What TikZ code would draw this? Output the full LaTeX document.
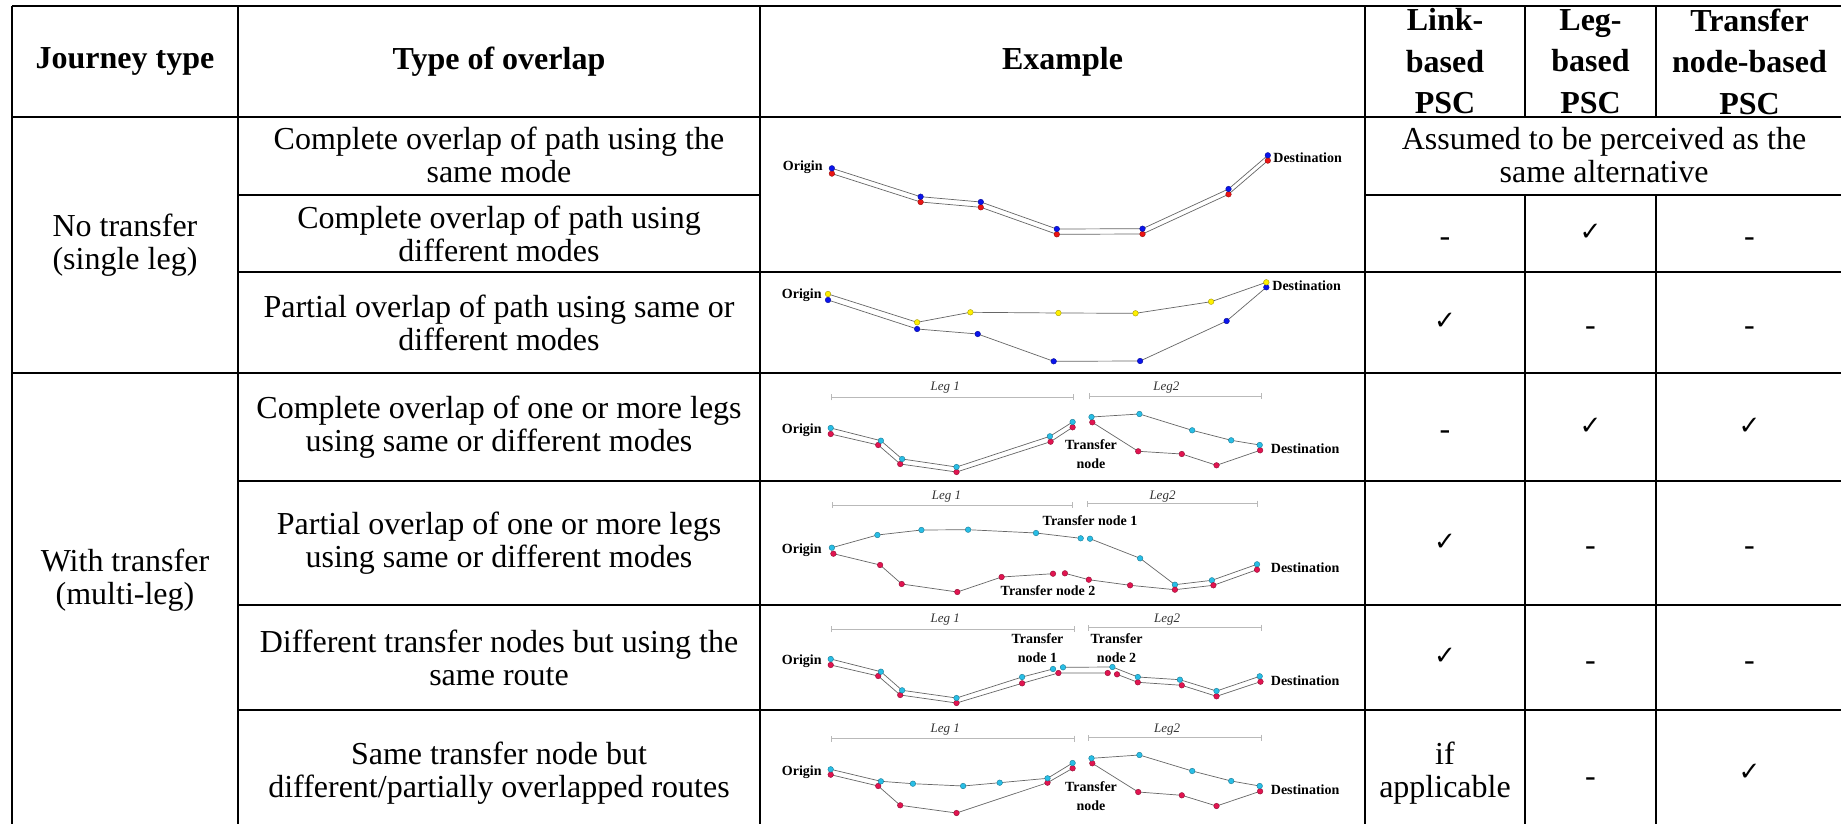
\documentclass[tikz,border=0pt]{standalone}
\usepackage{fontspec}
\setmainfont{Liberation Serif}
\newfontfamily\dejavu{DejaVu Sans}
\usetikzlibrary{arrows.meta}
\definecolor{bluec}{RGB}{10,20,235}
\definecolor{redc}{RGB}{235,20,20}
\definecolor{yellowc}{RGB}{255,240,0}
\definecolor{cyanc}{RGB}{40,190,230}
\definecolor{pinkc}{RGB}{225,20,80}
\newcommand\ckm{{\dejavu\bfseries\fontsize{13}{13}\selectfont ✓}}
\tikzset{
  grid/.style={line width=1pt},
  body/.style={font=\fontsize{16}{16.5}\selectfont, align=center, inner sep=0pt},
  head/.style={font=\bfseries\fontsize{16}{20.75}\selectfont, align=center, inner sep=0pt},
  valdash/.style={font=\fontsize{16}{16}\selectfont, anchor=base, inner sep=0pt},
  valck/.style={anchor=base, inner sep=0pt},
  lbl/.style={font=\bfseries\fontsize{7}{9.5}\selectfont, inner sep=0pt, align=center},
  legbar/.style={draw=gray!55, line width=0.5pt, {Bar[width=3pt]}-{Bar[width=3pt]}},
  leglbl/.style={font=\itshape\fontsize{6.5}{7}\selectfont, text=gray!40!black, inner sep=0pt},
  route/.style={draw=black!60, line width=0.35pt},
  dotsof/.style={mark=*, mark size=1.4pt, mark options={fill=#1, draw=#1!65!black, line width=0.2pt, solid}},
}
\begin{document}
\begin{tikzpicture}[x=0.5pt,y=-0.5pt]
\useasboundingbox (0,0) rectangle (1841,824);
\clip (0,0) rectangle (1841,824);
\fill[white] (0,0) rectangle (1841,824);

% ---------- grid ----------
\draw[grid] (12,6) -- (1845,6);
\draw[grid] (12,117) -- (1845,117);
\draw[grid] (238,195) -- (760,195);
\draw[grid] (1365,195) -- (1845,195);
\draw[grid] (238,272) -- (1845,272);
\draw[grid] (12,373) -- (1845,373);
\draw[grid] (238,481) -- (1845,481);
\draw[grid] (238,605) -- (1845,605);
\draw[grid] (238,710) -- (1845,710);
\draw[grid] (12,6) -- (12,840);
\draw[grid] (238,6) -- (238,840);
\draw[grid] (760,6) -- (760,840);
\draw[grid] (1365,6) -- (1365,840);
\draw[grid] (1525,6) -- (1525,117);
\draw[grid] (1525,195) -- (1525,840);
\draw[grid] (1656,6) -- (1656,117);
\draw[grid] (1656,195) -- (1656,840);
\draw[grid] (1843,6) -- (1843,840);

% ---------- header ----------
\node[head] (hj) at (125,61.5) {Journey type};
\node[head] (ht) at (499,61.5) {Type of overlap};
\node[head] (he) at (1062.5,61.5) {Example};
\node[head] (hl) at (1445,61.5) {Link-\\based\\PSC};
\node[head] (hg) at (1590.5,61.5) {Leg-\\based\\PSC};
\node[head] (hn) at (1749.5,61.5) {Transfer\\node-based\\PSC};

% ---------- journey type ----------
\node[body] (j1) at (125,245) {No transfer\\(single leg)};
\node[body] (j2) at (125,580) {With transfer\\(multi-leg)};

% ---------- type of overlap ----------
\node[body] (t1) at (499,155) {Complete overlap of path using the\\same mode};
\node[body] (t2) at (499,233.5) {Complete overlap of path using\\different modes};
\node[body] (t3) at (499,322.5) {Partial overlap of path using same or\\different modes};
\node[body] (t4) at (499,427) {Complete overlap of one or more legs\\using same or different modes};
\node[body] (t5) at (499,543) {Partial overlap of one or more legs\\using same or different modes};
\node[body] (t6) at (499,657.5) {Different transfer nodes but using the\\same route};
\node[body] (t7) at (499,773) {Same transfer node but\\different/partially overlapped routes};

% ---------- PSC values ----------
\node[body] (a1) at (1604,155) {Assumed to be perceived as the\\same alternative};
% row 2
\node[valdash] (v2l) at (1445,246) {-};
\node[valck] (v2g) at (1590.5,240.5) {\ckm};
\node[valdash] (v2n) at (1749.5,246) {-};
% row 3
\node[valck] (v3l) at (1445,329.5) {\ckm};
\node[valdash] (v3g) at (1590.5,335) {-};
\node[valdash] (v3n) at (1749.5,335) {-};
% row 4
\node[valdash] (v4l) at (1445,439.5) {-};
\node[valck] (v4g) at (1590.5,434) {\ckm};
\node[valck] (v4n) at (1749.5,434) {\ckm};
% row 5
\node[valck] (v5l) at (1445,550) {\ckm};
\node[valdash] (v5g) at (1590.5,555.5) {-};
\node[valdash] (v5n) at (1749.5,555.5) {-};
% row 6
\node[valck] (v6l) at (1445,664.5) {\ckm};
\node[valdash] (v6g) at (1590.5,670) {-};
\node[valdash] (v6n) at (1749.5,670) {-};
% row 7
\node[body] (v7l) at (1445,773) {if\\applicable};
\node[valdash] (v7g) at (1590.5,786) {-};
\node[valck] (v7n) at (1749.5,780) {\ckm};

% ---------- Example 1 ----------
\draw[route, dotsof=redc] plot coordinates {(831.9,173.6) (920.6,202) (980.8,207.3) (1056.8,234.3) (1142.5,234) (1228.5,194.3) (1267.8,160.6)};
\draw[route, dotsof=bluec] plot coordinates {(831.9,168.3) (920.6,196.7) (980.8,202) (1056.8,229) (1142.5,228.7) (1228.5,189) (1267.8,155.3)};
\node[lbl, anchor=east] (o1) at (823,167) {Origin};
\node[lbl, anchor=west] (d1) at (1273,157.7) {Destination};

% ---------- Example 2 ----------
\draw[route, dotsof=bluec] plot coordinates {(828,300) (917.1,329) (977.7,334) (1053.7,361.3) (1140.1,361) (1226.6,321) (1266.3,287.3)};
\draw[route, dotsof=yellowc] plot coordinates {(828,294) (917.1,322.3) (970.4,312.3) (1058.4,313) (1135.5,313.3) (1211.1,301.7) (1266.3,282.3)};
\node[lbl, anchor=east] (o2) at (822,294.7) {Origin};
\node[lbl, anchor=west] (d2) at (1272,286) {Destination};

% ---------- Example 3 ----------
\draw[legbar] (830.7,397.3) -- (1073.8,397.3);
\draw[legbar] (1089.2,396.3) -- (1262,396.3);
\node[leglbl] (l31) at (945.3,388) {Leg 1};
\node[leglbl] (l32) at (1166.4,388) {Leg2};
\draw[route, dotsof=pinkc] plot coordinates {(830.7,434) (878.2,445) (900.2,464) (956.5,472) (1050.6,441.7) (1072.6,427.3)};
\draw[route, dotsof=cyanc] plot coordinates {(830.7,428) (880.9,440.7) (902.1,459) (956.5,467) (1049.9,436.3) (1072.6,422)};
\draw[route, dotsof=pinkc] plot coordinates {(1092.3,422.3) (1138.2,451.3) (1181.8,454) (1216.5,465.3) (1260.1,450.3)};
\draw[route, dotsof=cyanc] plot coordinates {(1091.5,417) (1139.4,414) (1192.2,430.3) (1231.2,440.3) (1259.7,445)};
\node[lbl, anchor=east] (o3) at (822,430.3) {Origin};
\node[lbl] (n3) at (1091,454) {Transfer\\node};
\node[lbl, anchor=west] (d3) at (1270.5,449) {Destination};

% ---------- Example 4 ----------
\draw[legbar] (831.9,505) -- (1072.6,505);
\draw[legbar] (1087.3,503.7) -- (1258.2,503.7);
\node[leglbl] (l41) at (946.5,497) {Leg 1};
\node[leglbl] (l42) at (1162.5,496.3) {Leg2};
\draw[route, dotsof=cyanc] plot coordinates {(831.9,547.7) (877.4,535) (921.4,530) (968.1,529.7) (1036,533) (1080.7,538.3)};
\draw[route, dotsof=cyanc] plot coordinates {(1090,538.7) (1140.1,558.3) (1174.9,584.7) (1211.9,580.3) (1257,564.3)};
\draw[route, dotsof=pinkc] plot coordinates {(833.4,553.7) (880.1,565) (901.7,584) (957.3,592) (1001.6,577) (1053,573.7)};
\draw[route, dotsof=pinkc] plot coordinates {(1064.9,573.3) (1088.8,579.7) (1130.1,585.3) (1174.9,589.7) (1213.4,585.3) (1257,569.7)};
\node[lbl, anchor=east] (o4) at (822,550) {Origin};
\node[lbl] (n41) at (1090,521) {Transfer node 1};
\node[lbl] (n42) at (1048,591) {Transfer node 2};
\node[lbl, anchor=west] (d4) at (1270.5,567.7) {Destination};

% ---------- Example 5 ----------
\draw[legbar] (830.7,629) -- (1074.6,629);
\draw[legbar] (1088.4,627.7) -- (1262,627.7);
\node[leglbl] (l51) at (945.3,620) {Leg 1};
\node[leglbl] (l52) at (1167.2,620) {Leg2};
\draw[route, dotsof=pinkc] plot coordinates {(830.7,665) (878.2,676) (900.2,695) (956.5,703) (1022.1,683.3) (1058.4,673) (1107.7,673)};
\draw[route, dotsof=pinkc] plot coordinates {(1117,674.3) (1137.8,682.3) (1181.8,685.3) (1216.5,696.3) (1260.5,681.7)};
\draw[route, dotsof=cyanc] plot coordinates {(830.7,659) (880.9,671.7) (902.1,690.3) (956.5,698) (1022.1,677) (1053,669)};
\draw[route, dotsof=cyanc] plot coordinates {(1063,667.3) (1112.4,667) (1137.8,677) (1179.9,679.7) (1216.5,691) (1259.7,676.3)};
\node[lbl, anchor=east] (o5) at (822,661) {Origin};
\node[lbl] (n51) at (1037.5,648.3) {Transfer\\node 1};
\node[lbl] (n52) at (1116.6,648.3) {Transfer\\node 2};
\node[lbl, anchor=west] (d5) at (1270.5,680.3) {Destination};

% ---------- Example 6 ----------
\draw[legbar] (830.7,738.7) -- (1074.6,738.7);
\draw[legbar] (1088.4,737.7) -- (1262,737.7);
\node[leglbl] (l61) at (945.3,730) {Leg 1};
\node[leglbl] (l62) at (1167.2,730) {Leg2};
\draw[route, dotsof=pinkc] plot coordinates {(830.7,774.7) (878.2,786) (900.2,805.3) (956.5,813) (1047.5,782.7) (1072.6,768.3)};
\draw[route, dotsof=cyanc] plot coordinates {(830.7,769.3) (880.9,781.3) (912.9,783.7) (963.1,786) (999.7,782.7) (1047.5,778.3) (1072.6,763)};
\draw[route, dotsof=pinkc] plot coordinates {(1092.3,763.3) (1138.2,792) (1181.8,795.3) (1216.5,806) (1260.1,791.3)};
\draw[route, dotsof=cyanc] plot coordinates {(1091.5,758.3) (1139.4,755) (1192.2,771) (1231.2,781) (1259.7,786)};
\node[lbl, anchor=east] (o6) at (822,771.7) {Origin};
\node[lbl] (n6) at (1091,796.3) {Transfer\\node};
\node[lbl, anchor=west] (d6) at (1270.5,790) {Destination};
\end{tikzpicture}
\end{document}
